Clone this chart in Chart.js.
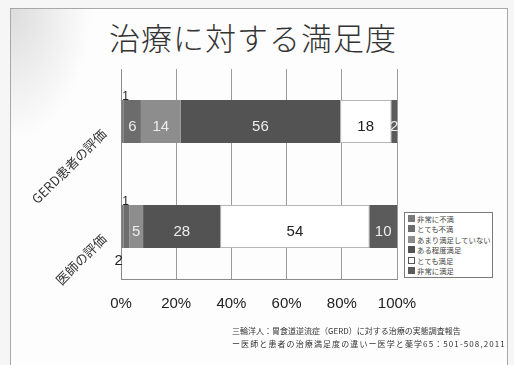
<!DOCTYPE html>
<html lang="ja">
<head>
<meta charset="utf-8">
<title>治療に対する満足度</title>
<script src="https://cdn.jsdelivr.net/npm/chart.js@4.4.1/dist/chart.umd.min.js"></script>
<style>
    html, body {
        margin: 0;
        padding: 0;
        width: 514px;
        height: 365px;
        overflow: hidden;
        background: #f6f6f6;
    }
    .slide {
        position: absolute;
        left: 10px;
        top: 8px;
        width: 496px;
        height: 370px;
        border: 1px solid #a8a8a8;
        background: radial-gradient(ellipse 80px 130px at 0 0, #dcdcdc, rgba(255,255,255,0) 100%), #fdfdfd;
    }
    .title {
        position: absolute;
        left: 0;
        top: 14px;
        width: 506px;
        text-align: center;
        font: 300 31px "Noto Sans CJK JP", sans-serif;
        color: #333;
        letter-spacing: 1px;
    }
    #chartWrap {
        position: absolute;
        left: 0;
        top: 0;
        width: 514px;
        height: 365px;
    }
    .legend {
        position: absolute;
        left: 404px;
        top: 212px;
        width: 82px;
        padding: 1px 2px 1px 3px;
        border: 1px solid #7a7a7a;
        background: #fff;
        font: 7.4px "Noto Sans CJK JP", sans-serif;
        color: #444;
        line-height: 10.4px;
    }
    .legend .item { white-space: nowrap; }
    .legend .box {
        display: inline-block;
        width: 5px;
        height: 5px;
        margin-right: 2px;
        vertical-align: 0;
        border: 1px solid transparent;
    }
    .source {
        position: absolute;
        left: 232px;
        top: 324px;
        font: 8px "Noto Sans CJK JP", sans-serif;
        color: #333;
        line-height: 13px;
        white-space: nowrap;
    }
    .source .wide { letter-spacing: 1.1px; }
</style>
</head>
<body>
<div class="slide"></div>
<div class="title">治療に対する満足度</div>
<div id="chartWrap"><canvas id="satisfactionChart" width="514" height="365"></canvas></div>
<div class="legend" id="legend"></div>
<div class="source">三輪洋人：胃食道逆流症（GERD）に対する治療の実態調査報告<br><span class="wide">ー医師と患者の治療満足度の違いー医学と薬学65：501-508,2011</span></div>

<script>
// categories and answers (number of respondents per level)
const categories = ['GERD患者の評価', '医師の評価'];
const levels = ['非常に不満', 'とても不満', 'あまり満足していない', 'ある程度満足', 'とても満足', '非常に満足'];
const patientValues = [1, 6, 14, 56, 18, 2];
const doctorValues = [1, 2, 5, 28, 54, 10];
const xTicks = [0, 20, 40, 60, 80, 100];

const levelColors = ['#7a7a7a', '#6c6c6c', '#8d8d8d', '#535353', '#ffffff', '#5b5b5b'];
const seriesByCategory = [patientValues, doctorValues];

// each bar is shown as share of its own total
const toShare = values => {
    const total = values.reduce((a, b) => a + b, 0);
    return values.map(v => v / total * 100);
};
const shares = seriesByCategory.map(toShare);

const datasets = levels.map((level, li) => ({
    label: level,
    data: shares.map(s => s[li]),
    backgroundColor: levelColors[li],
    borderColor: levelColors[li] === '#ffffff' ? '#b5b5b5' : levelColors[li],
    borderWidth: levelColors[li] === '#ffffff' ? 1 : 0,
    borderSkipped: false,
    categoryPercentage: 1,
    barPercentage: 0.41
}));

// value labels inside the segments, tiny ones pushed outside the bar
const segmentLabels = {
    id: 'segmentLabels',
    afterDatasetsDraw(chart) {
        const ctx = chart.ctx;
        const tinyCount = [0, 0];
        ctx.save();
        ctx.textAlign = 'center';
        ctx.textBaseline = 'middle';
        chart.data.datasets.forEach((ds, di) => {
            chart.getDatasetMeta(di).data.forEach((bar, i) => {
                const raw = seriesByCategory[i][di];
                const left = Math.min(bar.x, bar.base);
                const right = Math.max(bar.x, bar.base);
                const top = bar.y - bar.height / 2;
                const bottom = bar.y + bar.height / 2;
                if (raw < 3 && di < 2) {
                    ctx.fillStyle = '#222';
                    if (tinyCount[i] === 0) {
                        ctx.font = '12px "Liberation Sans", Arial, sans-serif';
                        ctx.fillText(String(raw), left + 4, top - 3);
                    } else {
                        ctx.font = '15px "Liberation Sans", Arial, sans-serif';
                        ctx.fillText(String(raw), left - 5, bottom + 13);
                    }
                    tinyCount[i]++;
                    return;
                }
                ctx.font = '15px "Liberation Sans", Arial, sans-serif';
                ctx.fillStyle = levelColors[di] === '#ffffff' ? '#222' : '#ececec';
                ctx.fillText(String(raw), (left + right) / 2, bar.y + 5);
            });
        });
        ctx.restore();
    }
};

const chart = new Chart(document.getElementById('satisfactionChart'), {
    type: 'bar',
    data: { labels: categories, datasets },
    options: {
        indexAxis: 'y',
        responsive: false,
        animation: false,
        layout: { padding: { top: 69, right: 117, left: 0, bottom: 0 } },
        plugins: {
            legend: { display: false },
            tooltip: { enabled: false }
        },
        scales: {
            x: {
                stacked: true,
                min: 0,
                max: 100,
                afterBuildTicks: scale => { scale.ticks = xTicks.map(v => ({ value: v })); },
                afterFit: scale => { scale.height = 86; },
                grid: { color: '#9a9a9a', drawTicks: false, lineWidth: 1 },
                border: { display: true, color: '#8a8a8a', width: 1 },
                ticks: {
                    padding: 16,
                    color: '#222',
                    font: { family: '"Liberation Sans", Arial, sans-serif', size: 15 },
                    callback: v => v + '%'
                }
            },
            y: {
                stacked: true,
                afterFit: scale => { scale.width = 121; },
                grid: { display: false },
                border: { display: true, color: '#8a8a8a', width: 1 },
                ticks: {
                    minRotation: 45,
                    maxRotation: 45,
                    padding: 9,
                    labelOffset: 10,
                    color: '#333',
                    font: { family: '"Noto Sans CJK JP", sans-serif', size: 13 }
                }
            }
        }
    },
    plugins: [segmentLabels]
});

// legend box built from the datasets
const legendEl = document.getElementById('legend');
chart.data.datasets.forEach(ds => {
    const item = document.createElement('div');
    item.className = 'item';
    const box = document.createElement('span');
    box.className = 'box';
    box.style.background = ds.backgroundColor;
    box.style.borderColor = ds.backgroundColor === '#ffffff' ? '#555' : ds.backgroundColor;
    item.appendChild(box);
    item.appendChild(document.createTextNode(ds.label));
    legendEl.appendChild(item);
});
</script>
</body>
</html>
